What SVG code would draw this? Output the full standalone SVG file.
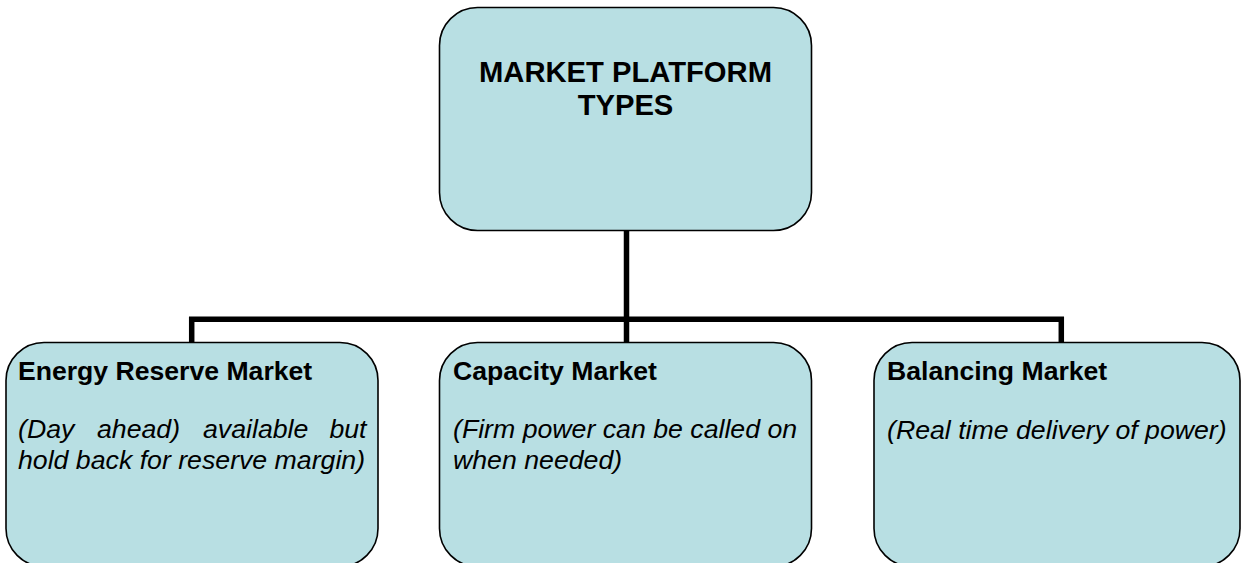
<svg xmlns="http://www.w3.org/2000/svg" width="1241" height="563" viewBox="0 0 1241 563">
<style>
.box{fill:#B8DFE3;stroke:#000;stroke-width:1.6}
.conn{fill:none;stroke:#000;stroke-width:5.5;stroke-linejoin:miter;stroke-linecap:butt}
.title{font-family:"Liberation Sans",Arial,sans-serif;font-weight:bold;font-size:29.2px;fill:#000}
.head{font-family:"Liberation Sans",Arial,sans-serif;font-weight:bold;font-size:26.6px;fill:#000}
.body{font-family:"Liberation Sans",Arial,sans-serif;font-style:italic;font-size:26.7px;fill:#000}
</style>
<rect width="1241" height="563" fill="#fff"/>
<g id="connectors">
<path class="conn" d="M626.5,230 V342"/>
<path class="conn" d="M191.7,342 V319.3 H1061.3 V342"/>
</g>
<g id="node-top">
<rect class="box" x="439.5" y="7.5" width="372" height="223" rx="38" ry="38"/>
<text class="title" x="625.5" y="82" text-anchor="middle">MARKET PLATFORM</text>
<text class="title" x="625.5" y="115" text-anchor="middle">TYPES</text>
</g>
<g id="node-energy">
<rect class="box" x="6" y="342.5" width="372" height="224" rx="38" ry="38"/>
<text class="head" x="18" y="380">Energy Reserve Market</text>
<text class="body" y="438"><tspan x="18">(Day</tspan><tspan x="97">ahead)</tspan><tspan x="203">available</tspan><tspan x="366.5" text-anchor="end">but</tspan></text>
<text class="body" x="18" y="469">hold back for reserve margin)</text>
</g>
<g id="node-capacity">
<rect class="box" x="439.5" y="342.5" width="372" height="224" rx="38" ry="38"/>
<text class="head" x="453" y="380">Capacity Market</text>
<text class="body" x="453" y="438">(Firm power can be called on</text>
<text class="body" x="453" y="469">when needed)</text>
</g>
<g id="node-balancing">
<rect class="box" x="874" y="342.5" width="366" height="224" rx="38" ry="38"/>
<text class="head" x="887" y="380">Balancing Market</text>
<text class="body" x="887" y="439">(Real time delivery of power)</text>
</g>
</svg>
